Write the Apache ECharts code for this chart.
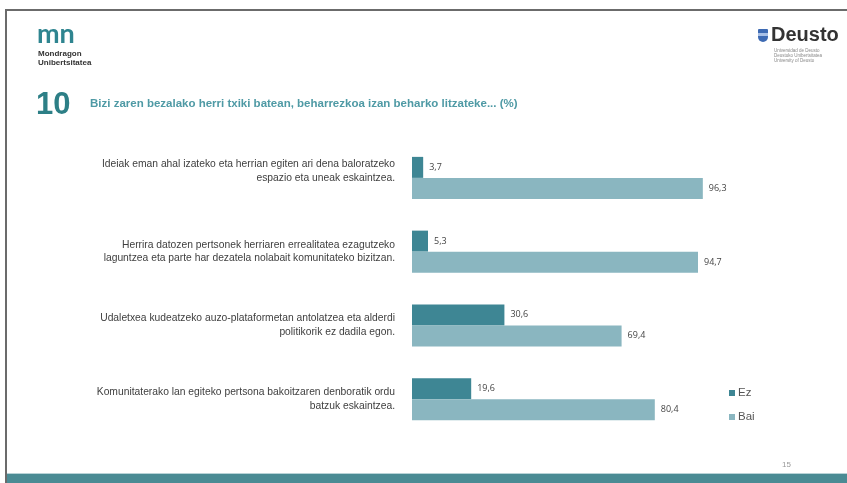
<!DOCTYPE html>
<html><head><meta charset="utf-8">
<script src="https://cdn.jsdelivr.net/npm/echarts@6/dist/echarts.min.js"></script>
<style>html,body{margin:0;padding:0;background:#fff}#c{width:847px;height:483px}</style>
</head><body><div id="c"></div>
<script>
var categories = [
  "Ideiak eman ahal izateko eta herrian egiten ari dena baloratzeko\nespazio eta uneak eskaintzea.",
  "Herrira datozen pertsonek herriaren errealitatea ezagutzeko\nlaguntzea eta parte har dezatela nolabait komunitateko bizitzan.",
  "Udaletxea kudeatzeko auzo-plataformetan antolatzea eta alderdi\npolitikorik ez dadila egon.",
  "Komunitaterako lan egiteko pertsona bakoitzaren denboratik ordu\nbatzuk eskaintzea."
];
var seriesNames = ["Ez", "Bai"];
var ezValues = [3.7, 5.3, 30.6, 19.6];
var baiValues = [96.3, 94.7, 69.4, 80.4];

var chart = echarts.init(document.getElementById('c'));
var fmt = function(p){ return String(p.value).replace('.', ','); };
chart.setOption({
  animation: false,
  backgroundColor: '#fff',
  grid: { left: 412, top: 141, width: 302, height: 295, containLabel: false },
  xAxis: { type: 'value', min: 0, max: 100, show: false },
  yAxis: {
    type: 'category', data: categories, inverse: true,
    axisLine: { show: false }, axisTick: { show: false },
    axisLabel: {
      align: 'right', margin: 17, color: '#404040', fontSize: 10.3, lineHeight: 13.5, fontFamily: 'Liberation Sans, Arial',
      formatter: function(v, i){ return i === 0 ? v + '\n ' : v; }
    }
  },
  legend: {
    orient: 'vertical', left: 724, top: 382, itemWidth: 6, itemHeight: 6, itemGap: 12,
    icon: 'rect', textStyle: { color: '#555', fontSize: 11.5, fontFamily: 'Liberation Sans, Arial', padding: [0, 0, 0, -2] },
    data: seriesNames
  },
  series: [
    { name: seriesNames[0], type: 'bar', data: ezValues, barWidth: 21, barGap: '0%',
      itemStyle: { color: '#3e8694' },
      label: { show: true, position: 'right', distance: 6, formatter: fmt, color: '#444', fontSize: 9, fontFamily: 'Open Sans, Liberation Sans' } },
    { name: seriesNames[1], type: 'bar', data: baiValues, barWidth: 21, barGap: '0%',
      itemStyle: { color: '#8ab6c0' },
      label: { show: true, position: 'right', distance: 6, formatter: fmt, color: '#444', fontSize: 9, fontFamily: 'Open Sans, Liberation Sans' } }
  ],
  graphic: [
    { type: 'rect', shape: { x: 5, y: 9, width: 2, height: 474 }, style: { fill: '#6b6b6b' } },
    { type: 'rect', shape: { x: 5, y: 9, width: 842, height: 2 }, style: { fill: '#6b6b6b' } },
    { type: 'rect', shape: { x: 7, y: 473, width: 840, height: 1 }, style: { fill: '#b9d3d7' } },
    { type: 'rect', shape: { x: 7, y: 474, width: 840, height: 9 }, style: { fill: '#4b8b94' } },
    { type: 'text', left: 37, top: 21, style: { text: 'mn', fill: '#2f8590', font: 'bold 27px Lato, Liberation Sans' } },
    { type: 'text', left: 38, top: 49, style: { text: 'Mondragon\nUnibertsitatea', fill: '#333', font: 'bold 8px Liberation Sans, Arial', lineHeight: 9 } },
    { type: 'rect', shape: { x: 758, y: 29, width: 10, height: 13, r: [1, 1, 5, 5] }, style: { fill: '#3d6ab3' } },
    { type: 'rect', shape: { x: 758, y: 33, width: 10, height: 3 }, style: { fill: '#a8c0e6' } },
    { type: 'text', left: 771, top: 25, style: { text: 'Deusto', fill: '#333', font: 'bold 20px Liberation Sans, Arial' } },
    { type: 'text', left: 774, top: 48, style: { text: 'Universidad de Deusto\nDeustuko Unibertsitatea\nUniversity of Deusto', fill: '#888', font: '4.5px Liberation Sans, Arial', lineHeight: 5 } },
    { type: 'text', left: 36, top: 90, style: { text: '10', fill: '#2d7f86', font: 'bold 31px Liberation Sans, Arial' } },
    { type: 'text', left: 90, top: 98, style: { text: 'Bizi zaren bezalako herri txiki batean, beharrezkoa izan beharko litzateke... (%)', fill: '#4f9aa5', font: 'bold 11.5px Liberation Sans, Arial' } },
    { type: 'text', left: 782, top: 461, style: { text: '15', fill: '#999', font: '8px Liberation Sans, Arial' } }
  ]
});
</script></body></html>
